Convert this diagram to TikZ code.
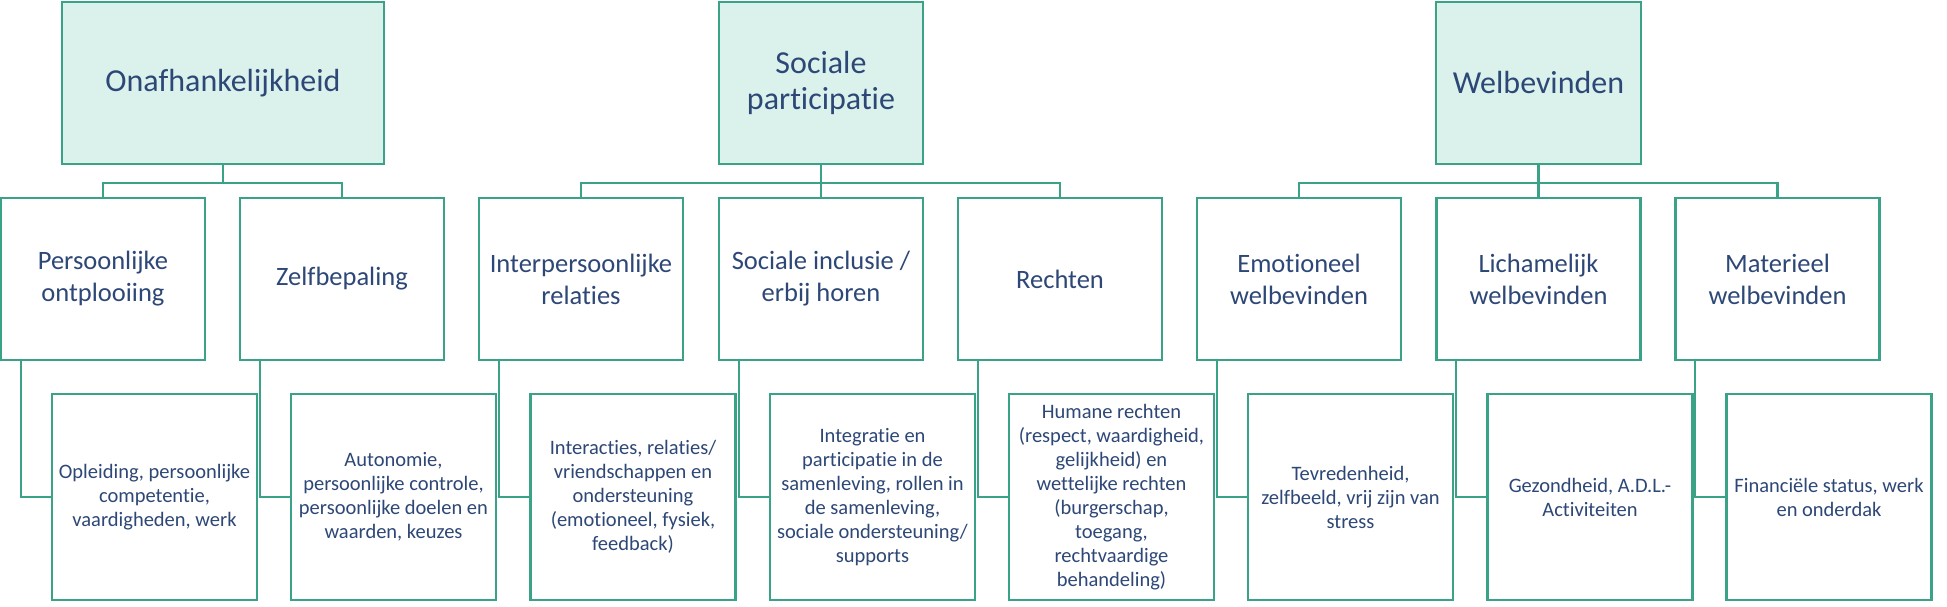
\documentclass[tikz,border=0pt]{standalone}
\usepackage{fontspec}
\setmainfont{Carlito}[Ligatures=NoCommon]
\definecolor{bordc}{HTML}{3AA287}
\definecolor{fillc}{HTML}{DAF2EB}
\definecolor{txtc}{HTML}{2D4776}
\tikzset{
  topbox/.style={draw=bordc, line width=2.6pt, fill=fillc, text=txtc, inner sep=0pt,
     minimum height=162pt, align=center, font=\fontsize{32}{36}\selectfont},
  midbox/.style={draw=bordc, line width=2.6pt, fill=white, text=txtc, inner sep=0pt,
     minimum width=204pt, minimum height=162pt, align=center, font=\fontsize{26.5}{32}\selectfont},
  leafbox/.style={draw=bordc, line width=2.6pt, fill=white, text=txtc, inner sep=0pt,
     minimum width=205pt, minimum height=206pt, align=center, font=\fontsize{20.5}{24}\selectfont},
  conn/.style={draw=bordc, line width=2.2pt},
}
\begin{document}
\begin{tikzpicture}[x=1pt,y=-1pt]
\useasboundingbox (0,0) rectangle (1947,607);
% top level
\node[topbox, minimum width=322pt] (t1) at (223,83) {Onafhankelijkheid};
\node[topbox, minimum width=204pt] (t2) at (821,83) {Sociale\\participatie};
\node[topbox, minimum width=205pt] (t3) at (1538.5,83) {Welbevinden};
% level 2
\node[midbox] (m1) at (103,279) {Persoonlijke\\ontplooiing};
\node[midbox] (m2) at (342,279) {Zelfbepaling};
\node[midbox] (m3) at (581,279) {Interpersoonlijke\\relaties};
\node[midbox] (m4) at (821,279) {Sociale inclusie /\\erbij horen};
\node[midbox] (m5) at (1060,279) {Rechten};
\node[midbox] (m6) at (1299,279) {Emotioneel\\welbevinden};
\node[midbox] (m7) at (1538.5,279) {Lichamelijk\\welbevinden};
\node[midbox] (m8) at (1777.5,279) {Materieel\\welbevinden};
% leaves
\node[leafbox] (l1) at (154.5,497) {Opleiding, persoonlijke\\competentie,\\vaardigheden, werk};
\node[leafbox] (l2) at (393.5,497) {Autonomie,\\persoonlijke controle,\\persoonlijke doelen en\\waarden, keuzes};
\node[leafbox] (l3) at (633,497) {Interacties, relaties/\\vriendschappen en\\ondersteuning\\(emotioneel, fysiek,\\feedback)};
\node[leafbox] (l4) at (872.5,497) {Integratie en\\participatie in de\\samenleving, rollen in\\de samenleving,\\sociale ondersteuning/\\supports};
\node[leafbox] (l5) at (1111.5,497) {Humane rechten\\(respect, waardigheid,\\gelijkheid) en\\wettelijke rechten\\(burgerschap,\\toegang,\\rechtvaardige\\behandeling)};
\node[leafbox] (l6) at (1350.5,497) {Tevredenheid,\\zelfbeeld, vrij zijn van\\stress};
\node[leafbox] (l7) at (1590,497) {Gezondheid, A.D.L.-\\Activiteiten};
\node[leafbox] (l8) at (1829,497) {Financiële status, werk\\en onderdak};
% tree connectors
\foreach \p/\c in {t1/m1,t1/m2,t2/m3,t2/m4,t2/m5,t3/m6,t3/m7,t3/m8}{
  \draw[conn] (\p.south) -- ++(0,18) -| (\c.north);
}
% leaf connectors
\foreach \p/\c in {m1/l1,m2/l2,m3/l3,m4/l4,m5/l5,m6/l6,m7/l7,m8/l8}{
  \draw[conn] ([xshift=21pt]\p.south west) |- (\c.west);
}
\end{tikzpicture}
\end{document}
